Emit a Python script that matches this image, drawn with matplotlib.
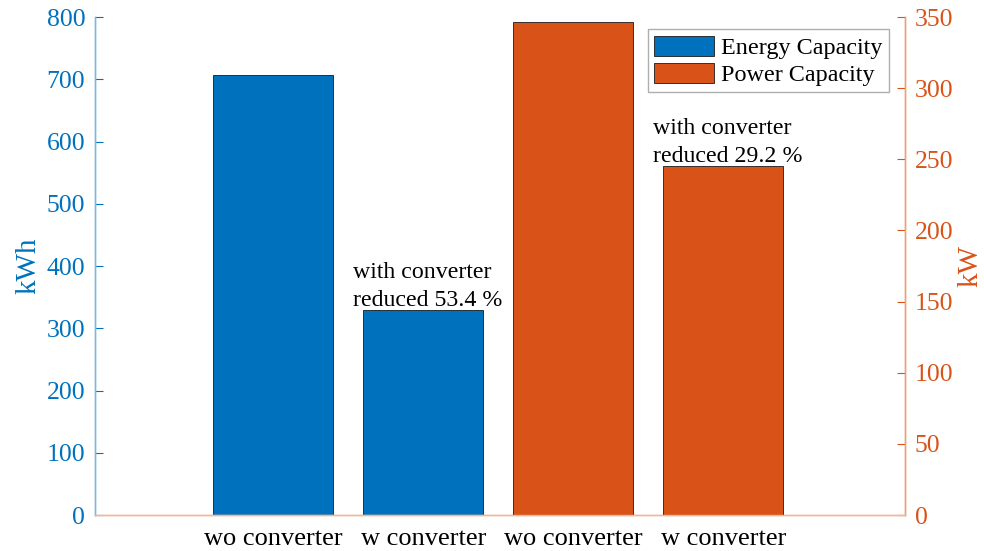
import numpy as np
import matplotlib.pyplot as plt

plt.rcParams['font.family'] = ['Liberation Serif', 'DejaVu Serif']

# Datos
labels = ['wo converter', 'w converter', 'wo converter', 'w converter']
energy = [707.0, 329.4]      # kWh
power = [346.5, 245.3]       # kW
energy_red = 53.4
power_red = 29.2

blue = '#0072BD'
orange = '#D95319'

fig = plt.figure(figsize=(9.84, 5.51), dpi=100)
ax = fig.add_axes([0.0965, 0.0653, 0.8232, 0.9038])
ax2 = ax.twinx()

x = np.arange(1, 5)
b1 = ax.bar(x[:2], energy, width=0.8, color=blue, edgecolor='#1a1a1a',
            linewidth=0.6, label='Energy Capacity')
b2 = ax2.bar(x[2:], power, width=0.8, color=orange, edgecolor='#1a1a1a',
             linewidth=0.6, label='Power Capacity')

ax.set_xlim(-0.19, 5.21)
ax.set_ylim(0, 800)
ax2.set_ylim(0, 350)
ax.set_yticks(np.arange(0, 801, 100))
ax2.set_yticks(np.arange(0, 351, 50))
ax.set_xticks(x)
ax.set_xticklabels(labels, fontsize=19)
ax.tick_params(axis='x', length=0, pad=9)

ax.tick_params(axis='y', direction='in', length=6, colors=blue,
               labelsize=18.5, pad=7)
ax2.tick_params(axis='y', direction='in', length=6, colors=orange,
                labelsize=18.5, pad=7)

for a in (ax, ax2):
    a.spines['top'].set_visible(False)
    a.spines['bottom'].set_color('#efb79c')
    a.spines['left'].set_color('#7fb8de')
    a.spines['right'].set_color('#e9a07c')
    for s in a.spines.values():
        s.set_linewidth(1.0)

ax.set_ylabel('kWh', color=blue, fontsize=21, labelpad=4)
ax2.set_ylabel('kW', color=orange, fontsize=21, labelpad=3)

# Anotaciones de reduccion (alineadas a la izquierda, sobre la barra)
ax.annotate('with converter\nreduced %.1f %%' % energy_red,
            xy=(x[1] - 0.47, energy[1]), xytext=(0, 3),
            textcoords='offset points', ha='left', va='baseline',
            fontsize=17.2, linespacing=1.45)
ax2.annotate('with converter\nreduced %.1f %%' % power_red,
             xy=(x[3] - 0.47, power[1]), xytext=(0, 3),
             textcoords='offset points', ha='left', va='baseline',
             fontsize=17.2, linespacing=1.45)

leg = ax2.legend(handles=[b1, b2], loc='upper right', fontsize=17.4,
                 bbox_to_anchor=(0.98, 0.975), frameon=True, fancybox=False,
                 edgecolor='#9a9a9a', handlelength=2.5, handleheight=0.9,
                 handletextpad=0.3, borderpad=0.25, labelspacing=0.15,
                 borderaxespad=0)
leg.get_frame().set_linewidth(1.0)

fig.savefig('out.png', dpi=100)
